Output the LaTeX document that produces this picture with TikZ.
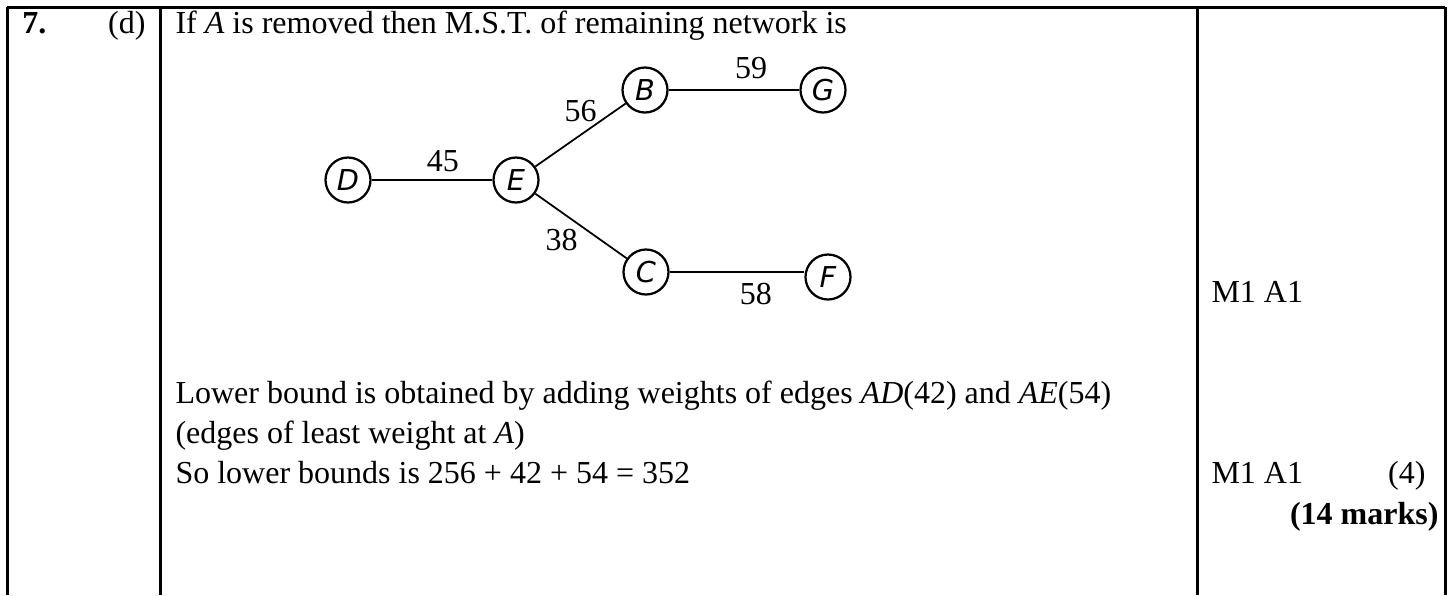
\documentclass[tikz,border=0pt]{standalone}
\usepackage{fontspec}
\setmainfont{Liberation Serif}
\newfontfamily\vertexfont{DejaVu Sans}
\usepackage{tikz}
\usetikzlibrary{
    positioning,
    calc,
}
\tikzset{
    % Text styles
    txt/.style={anchor=base west, inner sep=0pt, font=\fontsize{12.8}{15}\selectfont},
    txt right/.style={txt, anchor=base east},
    % Graph styles
    vertex/.style={circle, draw, line width=0.9pt, minimum size=18pt, inner sep=0pt,
                   font=\vertexfont\itshape\fontsize{11.5}{13}\selectfont},
    edge/.style={line width=0.7pt},
    weight/.style={font=\fontsize{12.8}{15}\selectfont, inner sep=1pt},
    % Table styles
    rule/.style={line width=1.2pt},
}

\begin{document}
\begin{tikzpicture}[x=0.4pt, y=-0.4pt]
    \useasboundingbox (0, 0) rectangle (1453, 595);

    % Table
    \draw[rule] (7, 7) -- (1445, 7);
    \foreach \x in {7, 160, 1197, 1445} {
        \draw[rule] (\x, 7) -- (\x, 595);
    }

    % Question
    \node[txt] (num) at (22, 33) {\textbf{7.}};
    \node[txt right] (part) at (146, 33) {(d)};
    \node[txt] (intro) at (175, 33) {If \textit{A} is removed then M.S.T. of remaining network is};

    % Tree
    \node[vertex] (D) at (348, 180) {D};
    \node[vertex] (E) at (516, 180) {E};
    \node[vertex] (B) at (645, 90) {B};
    \node[vertex] (G) at (823, 90) {G};
    \node[vertex] (C) at (646, 272) {C};
    \node[vertex] (F) at (828, 277) {F};

    \draw[edge] (D) -- node[weight, above=2pt, pos=0.59] {45} (E);
    \draw[edge] (E) -- node[weight, above=4pt, pos=0.5] {56} (B);
    \draw[edge] (E) -- node[weight, below left, pos=0.5] {38} (C);
    \draw[edge] (B) -- node[weight, above=3pt, pos=0.63] {59} (G);
    \draw[edge] (C.east) -- node[weight, below=3pt, pos=0.64] {58} (C.east -| F.west);

    % Working
    \node[txt] (lb) at (175, 403) {Lower bound is obtained by adding weights of edges \textit{AD}(42) and \textit{AE}(54)};
    \node[txt] (least) at (175, 443) {(edges of least weight at \textit{A})};
    \node[txt] (total) at (175, 483) {So lower bounds is 256 + 42 + 54 = 352};

    % Marks
    \node[txt] (m1) at (1211, 302) {M1 A1};
    \node[txt] (m2) at (1211, 483) {M1 A1};
    \node[txt right] (four) at (1426, 483) {(4)};
    \node[txt right] (marks) at (1439, 524) {\textbf{(14 marks)}};
\end{tikzpicture}
\end{document}
